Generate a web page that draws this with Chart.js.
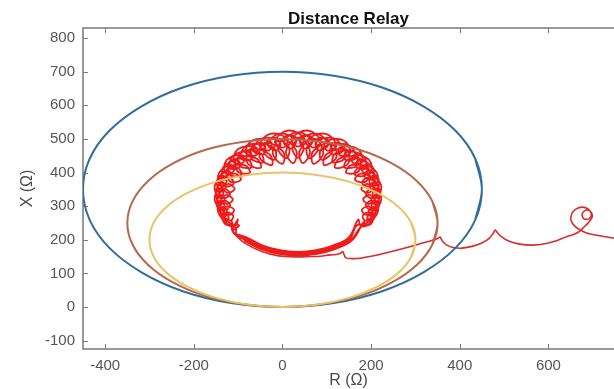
<!DOCTYPE html>
<html>
<head>
<meta charset="utf-8">
<script src="https://cdn.jsdelivr.net/npm/chart.js@4/dist/chart.umd.min.js"></script>
<style>
  html, body { margin: 0; padding: 0; background: #fff; overflow: hidden; }
  canvas { display: block; }
</style>
</head>
<body>
<canvas id="c" width="614" height="389"></canvas>
<script>
// ---- data ----
const xTicks = [-400, -200, 0, 200, 400, 600];
const yTicks = [-100, 0, 100, 200, 300, 400, 500, 600, 700, 800];

// relay zone boundaries (traced points, 15 degree steps)
const blueX   = [450, 435, 390, 318, 225, 116, 0, -116, -225, -318, -390, -435, -450, -435, -390, -318, -225, -116, 0, 116, 225, 318, 390, 435];
const blueY   = [350, 441, 525, 597, 653, 688, 700, 688, 653, 597, 525, 441, 350, 259, 175, 103, 47, 12, 0, 12, 47, 103, 175, 259];
const brownX  = [350, 338, 303, 247, 175, 91, 0, -91, -175, -247, -303, -338, -350, -338, -303, -247, -175, -91, 0, 91, 175, 247, 303, 338];
const brownY  = [250, 315, 375, 427, 467, 491, 500, 491, 467, 427, 375, 315, 250, 185, 125, 73, 33, 9, 0, 9, 33, 73, 125, 185];
const yellowX = [300, 290, 260, 212, 150, 78, 0, -78, -150, -212, -260, -290, -300, -290, -260, -212, -150, -78, 0, 78, 150, 212, 260, 290];
const yellowY = [200, 252, 300, 341, 373, 393, 400, 393, 373, 341, 300, 252, 200, 148, 100, 59, 27, 7, 0, 7, 27, 59, 100, 148];

// impedance trajectory: approach from the load point (right) into the fault region
const tailPath = [[775,202],[748,205],[716,212],[694,217],[676,226],[660,240],[651,258],[653,278],[662,291],[676,297],[690,291],[697,277],[692,263],[680,262],[676,276],[684,288],[695,284],[699,269],[691,252],[679,236],[668,223],[655,215],[641,209],[620,198],[595,189],[565,184],[535,187],[510,196],[494,209],[485,221],[480,229],[476,220],[467,205],[451,191],[430,181],[405,175],[385,177],[371,184],[362,194],[358,203],[356,208],[350,204],[340,199],[300,184],[266,172],[230,160],[200,151],[176,145],[156,144],[143,146],[139,156],[136,165],[131,160],[121,156],[108,155],[85,151],[63,150],[35,149],[-8,152],[-48,166],[-85,190],[-105,212]];

// looping laps of the fault trajectory (traced)
const loop1 = [[-107,238],[-130,247],[-135,279],[-122,269],[-125,254],[-145,282],[-142,315],[-131,303],[-137,288],[-153,320],[-142,353],[-133,338],[-143,325],[-153,360],[-133,390],[-126,372],[-141,362],[-143,399],[-115,423],[-110,404],[-129,398],[-126,437],[-91,452],[-88,430],[-110,431],[-100,470],[-60,475],[-60,451],[-83,459],[-67,496],[-26,491],[-30,466],[-52,480],[-28,515],[11,500],[2,474],[-17,494],[13,525],[49,501],[35,477],[21,501],[57,525],[87,494],[68,474],[59,500],[98,515],[122,480],[100,466],[96,491],[137,496],[153,459],[130,451],[130,475],[170,470],[180,431],[158,430],[161,452],[196,437],[199,398],[180,404],[185,423],[213,399],[211,362],[196,372],[203,390],[223,360],[213,325],[203,338],[212,353],[223,320],[207,288],[201,303],[212,315],[215,282],[195,254],[192,269],[205,279],[200,247],[177,238],[155,200],[118,176],[78,161],[35,156],[-8,161],[-48,176],[-85,200]];
const loop2 = [[-112,224],[-101,260],[-106,243],[-131,266],[-126,299],[-109,289],[-120,274],[-141,301],[-128,333],[-112,320],[-127,307],[-144,339],[-122,366],[-108,350],[-127,341],[-139,376],[-107,397],[-94,378],[-119,374],[-124,412],[-85,422],[-74,399],[-102,404],[-102,443],[-59,442],[-49,414],[-79,428],[-74,469],[-30,455],[-24,422],[-52,446],[-40,488],[1,463],[0,426],[-22,458],[-3,500],[31,466],[24,428],[8,464],[35,504],[62,464],[46,428],[39,466],[73,500],[92,458],[70,426],[69,463],[110,488],[122,446],[94,422],[100,455],[144,469],[149,428],[119,414],[129,442],[172,443],[172,404],[144,399],[155,422],[194,412],[189,374],[164,378],[177,397],[209,376],[197,341],[178,350],[192,366],[214,339],[197,307],[182,320],[198,333],[211,301],[190,274],[179,289],[196,299],[201,266],[176,243],[171,260],[149,206],[114,183],[76,169],[35,164],[-6,169],[-44,183],[-79,206]];
const loop3 = [[-112,224],[-98,243],[-126,248],[-127,281],[-111,272],[-118,257],[-140,283],[-133,316],[-118,304],[-129,290],[-148,320],[-132,351],[-118,336],[-134,324],[-146,359],[-121,385],[-110,367],[-130,360],[-137,396],[-103,415],[-93,394],[-118,393],[-119,432],[-79,440],[-70,415],[-98,422],[-93,462],[-50,458],[-44,430],[-72,445],[-61,486],[-18,471],[-18,438],[-42,462],[-24,503],[14,477],[9,443],[-10,473],[15,512],[47,478],[35,444],[23,478],[55,512],[80,473],[61,443],[56,477],[94,503],[112,462],[88,438],[88,471],[131,486],[142,445],[114,430],[120,458],[163,462],[168,422],[140,415],[149,440],[189,432],[188,393],[163,394],[173,415],[207,396],[200,360],[180,367],[191,385],[216,359],[204,324],[188,336],[202,351],[218,320],[199,290],[188,304],[203,316],[210,283],[188,257],[181,272],[197,281],[196,248],[168,243],[152,203],[116,179],[77,165],[35,160],[-7,165],[-46,179],[-82,203]];
const loop4 = [[-112,224],[-114,254],[-114,239],[-137,264],[-137,297],[-125,286],[-130,271],[-148,301],[-141,334],[-130,320],[-139,306],[-151,340],[-136,371],[-128,355],[-141,343],[-147,379],[-122,405],[-116,387],[-133,380],[-133,417],[-101,436],[-97,416],[-118,413],[-111,451],[-73,461],[-72,438],[-95,443],[-81,480],[-41,480],[-43,455],[-66,466],[-46,502],[-6,491],[-12,466],[-33,483],[-7,516],[30,496],[19,471],[3,493],[35,520],[67,493],[51,471],[40,496],[77,516],[103,483],[82,466],[76,491],[116,502],[136,466],[113,455],[111,480],[151,480],[165,443],[142,438],[143,461],[181,451],[188,413],[167,416],[171,436],[203,417],[203,380],[186,387],[192,405],[217,379],[211,343],[198,355],[206,371],[221,340],[209,306],[200,320],[211,334],[218,301],[200,271],[195,286],[207,297],[207,264],[184,239],[184,254],[157,198],[120,173],[78,158],[35,153],[-8,158],[-50,173],[-87,198]];

// ---- build datasets ----
function closedLoop(xs, ys) {
  const n = xs.length;
  const pts = [{x: xs[n - 1], y: ys[n - 1]}];
  for (let i = 0; i < n; i++) pts.push({x: xs[i], y: ys[i]});
  pts.push({x: xs[0], y: ys[0]});
  pts.push({x: xs[1], y: ys[1]});
  return pts;
}
const toXY = arr => arr.map(p => ({x: p[0], y: p[1]}));
const ringPts = toXY([tailPath[tailPath.length - 1]].concat(loop1, loop2, loop3, loop4));

const FONT = "'Liberation Sans', Arial, Helvetica, sans-serif";

const boxPlugin = {
  id: 'matlabBox',
  beforeDatasetsDraw(chart) {
    const {ctx, chartArea: a, scales} = chart;
    const x = scales.x, y = scales.y;
    ctx.save();
    ctx.strokeStyle = '#7a7a7a';
    ctx.lineWidth = 1.5;
    ctx.beginPath();
    ctx.moveTo(a.right + 2, a.top);
    ctx.lineTo(a.left, a.top);
    ctx.lineTo(a.left, a.bottom);
    ctx.lineTo(a.right + 2, a.bottom);
    ctx.stroke();
    ctx.lineWidth = 1;
    ctx.beginPath();
    x.ticks.forEach(t => {
      const px = Math.round(x.getPixelForValue(t.value)) + 0.5;
      ctx.moveTo(px, a.bottom); ctx.lineTo(px, a.bottom - 5);
      ctx.moveTo(px, a.top); ctx.lineTo(px, a.top + 5);
    });
    y.ticks.forEach(t => {
      const py = Math.round(y.getPixelForValue(t.value)) + 0.5;
      ctx.moveTo(a.left, py); ctx.lineTo(a.left + 5, py);
    });
    ctx.stroke();
    ctx.restore();
  }
};

new Chart(document.getElementById('c'), {
  type: 'scatter',
  data: {
    datasets: [
      { label: 'Zone 1', data: closedLoop(yellowX, yellowY), showLine: true, borderColor: '#e9c466', borderWidth: 2, pointRadius: 0, tension: 0.34, order: 1 },
      { label: 'Zone 2', data: closedLoop(brownX, brownY), showLine: true, borderColor: '#b46a4e', borderWidth: 2, pointRadius: 0, tension: 0.34, order: 2 },
      { label: 'Zone 3', data: closedLoop(blueX, blueY), showLine: true, borderColor: '#2f6e9c', borderWidth: 2, pointRadius: 0, tension: 0.34, order: 3 },
      { label: 'Approach', data: toXY(tailPath), showLine: true, borderColor: '#d92b2b', borderWidth: 1.6, pointRadius: 0, tension: 0.3, order: 10 },
      { label: 'Fault', data: ringPts, showLine: true, borderColor: '#ee1b1b', borderWidth: 1.8, pointRadius: 0, tension: 0.4, order: 11 }
    ]
  },
  options: {
    responsive: false,
    animation: false,
    devicePixelRatio: 1,
    layout: { padding: 0 },
    plugins: {
      legend: { display: false },
      tooltip: { enabled: false },
      title: {
        display: true,
        text: 'Distance Relay',
        fullSize: false,
        color: '#111',
        font: { family: FONT, size: 17, weight: 'bold', lineHeight: 1 },
        padding: { top: 11, bottom: 0 }
      }
    },
    scales: {
      x: {
        type: 'linear',
        position: 'bottom',
        min: -450,
        max: 748,
        grid: { display: false, drawTicks: false },
        border: { display: false },
        ticks: { color: '#555', font: { family: FONT, size: 15 }, padding: 8, maxRotation: 0, autoSkip: false },
        title: { display: true, text: 'R (Ω)', color: '#4a4a4a', font: { family: FONT, size: 16, lineHeight: 1 }, padding: { top: 0, bottom: 0 } },
        afterBuildTicks: s => { s.ticks = xTicks.map(v => ({ value: v })); },
        afterFit: s => { s.height = 40; }
      },
      y: {
        type: 'linear',
        position: 'left',
        min: -125,
        max: 830,
        grid: { display: false, drawTicks: false },
        border: { display: false },
        ticks: { color: '#555', font: { family: FONT, size: 15 }, padding: 8, autoSkip: false },
        title: { display: true, text: 'X (Ω)', color: '#4a4a4a', font: { family: FONT, size: 16, lineHeight: 1 }, padding: { top: 20, bottom: 0 } },
        afterBuildTicks: s => { s.ticks = yTicks.map(v => ({ value: v })); },
        afterFit: s => { s.width = 83; }
      }
    }
  },
  plugins: [boxPlugin]
});
</script>
</body>
</html>
